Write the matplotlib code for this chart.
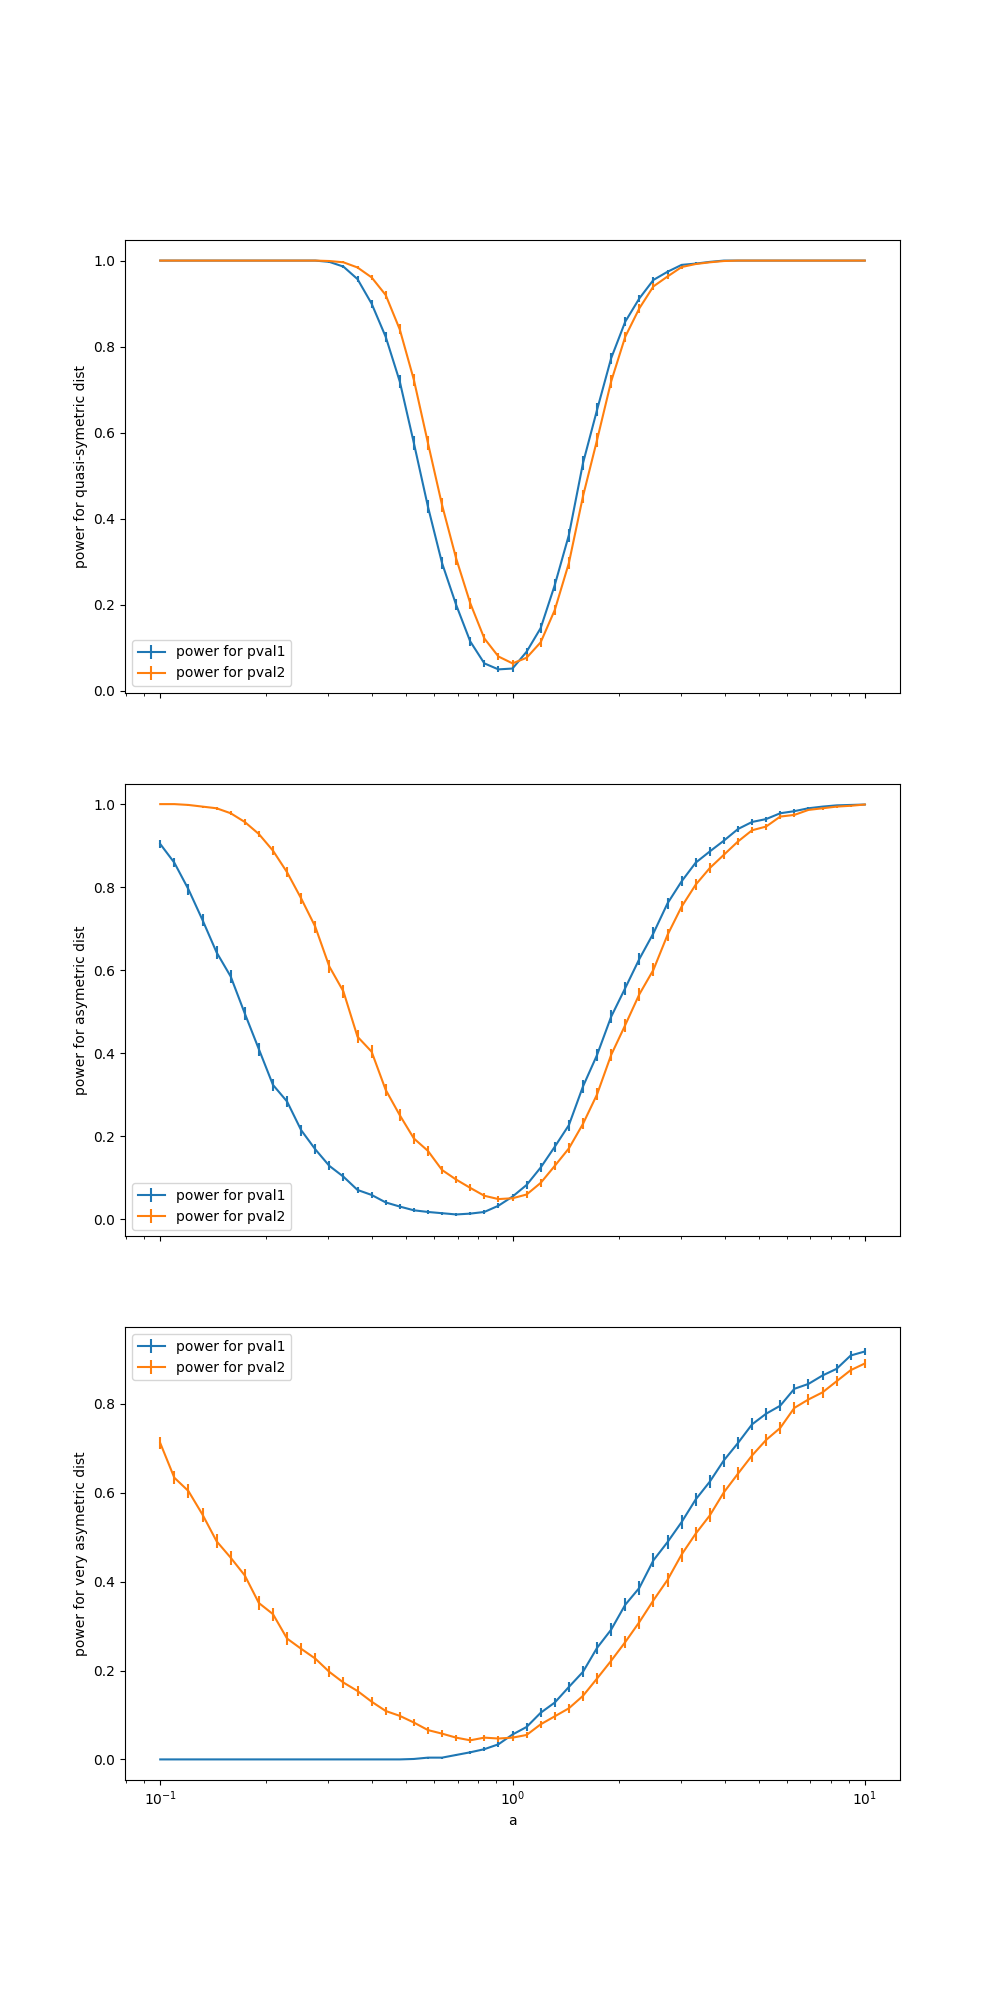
import numpy as np
import matplotlib
matplotlib.use("Agg")
import matplotlib.pyplot as plt

# values of a: 51 log-spaced points from 0.1 to 10
a = np.logspace(-1, 1, 51)
n_trials = 1000

quasi_p1 = [1.0] * 12 + [
    0.997, 0.986, 0.957, 0.900, 0.823, 0.719, 0.576, 0.428, 0.297, 0.200,
    0.115, 0.064, 0.050, 0.052, 0.091, 0.146, 0.246, 0.362, 0.529, 0.653,
    0.773, 0.858, 0.912, 0.955, 0.974, 0.990, 0.993, 0.997] + [1.0] * 11
quasi_p2 = [1.0] * 12 + [
    0.999, 0.996, 0.984, 0.961, 0.920, 0.840, 0.723, 0.576, 0.432, 0.308,
    0.204, 0.122, 0.080, 0.064, 0.077, 0.113, 0.188, 0.297, 0.452, 0.583,
    0.719, 0.823, 0.889, 0.940, 0.963, 0.985, 0.992, 0.996, 0.999] + [1.0] * 10

asym_p1 = [
    0.904, 0.859, 0.795, 0.721, 0.643, 0.585, 0.496, 0.410, 0.324, 0.284,
    0.215, 0.169, 0.129, 0.103, 0.071, 0.059, 0.041, 0.031, 0.022, 0.018,
    0.015, 0.012, 0.014, 0.018, 0.033, 0.055, 0.083, 0.125, 0.175, 0.227,
    0.320, 0.396, 0.488, 0.557, 0.627, 0.689, 0.761, 0.814, 0.859, 0.886,
    0.912, 0.940, 0.957, 0.964, 0.978, 0.983, 0.990, 0.994, 0.997, 0.998,
    0.999]
asym_p2 = [
    1.000, 1.000, 0.998, 0.994, 0.990, 0.978, 0.957, 0.928, 0.888, 0.836,
    0.773, 0.705, 0.609, 0.549, 0.440, 0.404, 0.312, 0.251, 0.195, 0.165,
    0.119, 0.096, 0.076, 0.057, 0.049, 0.051, 0.060, 0.088, 0.129, 0.171,
    0.230, 0.301, 0.396, 0.468, 0.542, 0.601, 0.685, 0.753, 0.806, 0.846,
    0.878, 0.910, 0.937, 0.946, 0.970, 0.974, 0.986, 0.990, 0.994, 0.996,
    0.999]

very_p1 = [0.0] * 18 + [
    0.001, 0.004, 0.004, 0.010, 0.016, 0.023, 0.034, 0.056, 0.073, 0.105,
    0.128, 0.163, 0.197, 0.251, 0.292, 0.348, 0.386, 0.448, 0.489, 0.534,
    0.585, 0.625, 0.673, 0.712, 0.754, 0.778, 0.796, 0.834, 0.845, 0.864,
    0.879, 0.909, 0.918]
very_p2 = [
    0.712, 0.634, 0.604, 0.551, 0.491, 0.454, 0.414, 0.352, 0.327, 0.272,
    0.249, 0.227, 0.197, 0.173, 0.154, 0.130, 0.109, 0.098, 0.083, 0.066,
    0.058, 0.049, 0.043, 0.049, 0.047, 0.049, 0.055, 0.079, 0.097, 0.115,
    0.143, 0.182, 0.222, 0.264, 0.309, 0.358, 0.404, 0.461, 0.508, 0.549,
    0.601, 0.643, 0.684, 0.719, 0.746, 0.791, 0.810, 0.826, 0.851, 0.876,
    0.891]

panels = [
    ("power for quasi-symetric dist", quasi_p1, quasi_p2, "lower left"),
    ("power for asymetric dist", asym_p1, asym_p2, "lower left"),
    ("power for very asymetric dist", very_p1, very_p2, "upper left"),
]


def std_err(p):
    p = np.asarray(p)
    return np.sqrt(p * (1 - p) / n_trials)


fig, axes = plt.subplots(3, 1, figsize=(10, 20), sharex=True)
for ax, (label, p1, p2, loc) in zip(axes, panels):
    ax.errorbar(a, p1, yerr=std_err(p1), label="power for pval1")
    ax.errorbar(a, p2, yerr=std_err(p2), label="power for pval2")
    ax.set_xscale("log")
    ax.set_ylabel(label)
    ax.legend(loc=loc)
axes[-1].set_xlabel("a")

fig.savefig("out.png", dpi=100)
